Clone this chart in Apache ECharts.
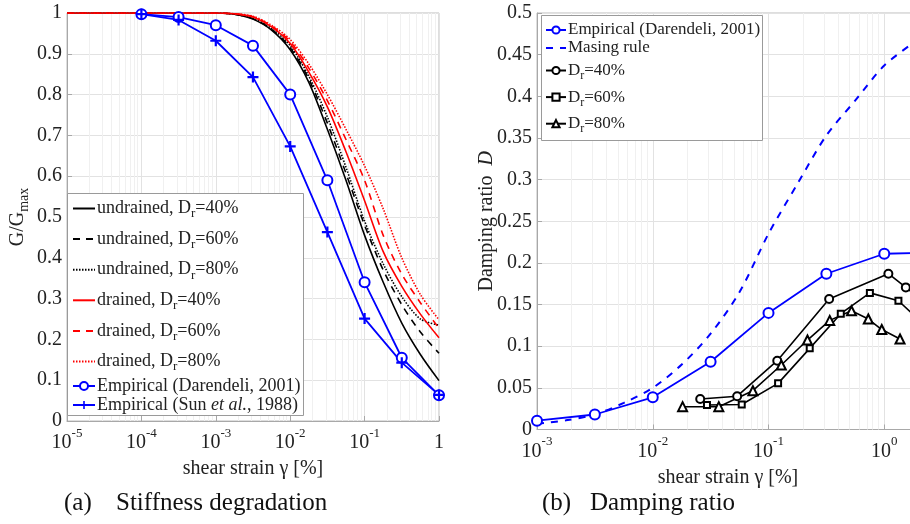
<!DOCTYPE html>
<html><head><meta charset="utf-8">
<script src="https://cdn.jsdelivr.net/npm/echarts@6/dist/echarts.min.js"></script>
<style>html,body{margin:0;padding:0;background:#fff;overflow:hidden;width:910px;height:524px}#c{width:960px;height:524px}</style>
</head><body><div id="c"></div>
<script>
// ---------- DATA (left: stiffness degradation) ----------
const modelStrain = [0.00001, 0.001, 0.00178, 0.00316, 0.00562, 0.01, 0.0178, 0.0316, 0.0562, 0.1, 0.178, 0.316, 0.562, 1];
const undrained40 = [1, 1, 0.997, 0.985, 0.958, 0.91, 0.83, 0.715, 0.59, 0.455, 0.34, 0.24, 0.163, 0.099];
const undrained60 = [1, 1, 0.997, 0.986, 0.96, 0.915, 0.838, 0.73, 0.607, 0.48, 0.37, 0.285, 0.218, 0.166];
const undrained80 = [1, 1, 0.997, 0.987, 0.962, 0.92, 0.845, 0.745, 0.622, 0.49, 0.385, 0.305, 0.25, 0.235];
const drained40   = [1, 1, 0.998, 0.99, 0.966, 0.925, 0.855, 0.77, 0.66, 0.54, 0.415, 0.33, 0.262, 0.204];
const drained60   = [1, 1, 0.998, 0.991, 0.968, 0.93, 0.865, 0.785, 0.69, 0.59, 0.455, 0.36, 0.29, 0.227];
const drained80   = [1, 1, 0.998, 0.992, 0.97, 0.935, 0.875, 0.80, 0.715, 0.625, 0.52, 0.40, 0.31, 0.248];
const empStrain   = [0.0001, 0.000316, 0.001, 0.00316, 0.01, 0.0316, 0.1, 0.316, 1];
const darendeliG  = [0.997, 0.99, 0.97, 0.92, 0.80, 0.59, 0.34, 0.155, 0.063];
const sunG        = [0.997, 0.983, 0.932, 0.843, 0.673, 0.463, 0.251, 0.143, 0.064];

// ---------- DATA (right: damping ratio) ----------
const darDStrain  = [0.001, 0.00316, 0.01, 0.0316, 0.1, 0.316, 1, 3.16];
const darendeliD  = [0.0106, 0.018, 0.0386, 0.0814, 0.140, 0.187, 0.211, 0.2125];
const masingStrain = [0.001, 0.00178, 0.00316, 0.00562, 0.01, 0.0178, 0.0316, 0.0562, 0.1, 0.178, 0.316, 0.562, 1, 1.78];
const masingD     = [0.007, 0.011, 0.018, 0.032, 0.05, 0.078, 0.115, 0.165, 0.235, 0.295, 0.353, 0.395, 0.437, 0.464];
const dr40Strain  = [0.0257, 0.0536, 0.119, 0.334, 1.085, 1.535, 2.5];
const dr40D       = [0.0366, 0.040, 0.0826, 0.1566, 0.187, 0.1706, 0.147];
const dr60Strain  = [0.0294, 0.0587, 0.121, 0.227, 0.421, 0.751, 1.325, 2.2];
const dr60D       = [0.0294, 0.030, 0.0554, 0.0974, 0.139, 0.164, 0.1546, 0.126];
const dr80Strain  = [0.0181, 0.0372, 0.0733, 0.129, 0.217, 0.338, 0.521, 0.728, 0.951, 1.368];
const dr80D       = [0.0274, 0.0274, 0.0466, 0.0774, 0.1074, 0.131, 0.1426, 0.1326, 0.120, 0.1086];

// ---------- tick labels ----------
const leftXTicks = [-5, -4, -3, -2, -1, 0];
const rightXTicks = [-3, -2, -1, 0];

const F = '"Liberation Serif","Times New Roman",serif';
const TXT = '#222';
const BLUE = '#0000ff';
const toXY = (xs, ys) => xs.map((x, i) => [Math.log10(x), ys[i]]);

function minorLines(a, b) {
  const out = [];
  for (let n = a; n < b; n++) for (let k = 2; k <= 9; k++) out.push({ xAxis: n + Math.log10(k) });
  return out;
}

const plusPath = 'path://M4,0h2v4h4v2h-4v4h-2v-4h-4v-2h4z';

const labelRich = {
  n: { fontSize: 20, fontFamily: F, color: TXT, lineHeight: 26, verticalAlign: 'bottom' },
  s: { fontSize: 13, fontFamily: F, color: TXT, lineHeight: 13, verticalAlign: 'top' }
};
const legRich = (fs) => ({
  n: { fontSize: fs, fontFamily: F, color: TXT },
  i: { fontSize: fs, fontFamily: F, color: TXT, fontStyle: 'italic' },
  m: { fontSize: fs, fontFamily: F, color: TXT },
  s: { fontSize: fs - 5, fontFamily: F, color: TXT, padding: [11, 0, 0, 0] }
});

function xAxisCfg(grid, min, max, ticks) {
  return {
    gridIndex: grid, type: 'value', min: min, max: max, interval: 1,
    axisLine: { show: true, onZero: false, lineStyle: { color: '#a8a8a8' } },
    axisTick: { inside: true, length: 5, lineStyle: { color: '#a8a8a8' } },
    splitLine: { show: true, lineStyle: { color: '#e2e2e2' } },
    axisLabel: {
      margin: 6,
      formatter: v => {
        if (ticks.indexOf(v) < 0) return '';
        if (v === 0 && grid === 0) return '{n|1}';
        return '{n|10}{s|' + v + '}';
      },
      rich: labelRich
    },
    name: 'shear strain γ [%]', nameLocation: 'middle', nameGap: 38,
    nameTextStyle: { fontFamily: F, fontSize: 20, color: TXT }
  };
}
function yAxisCfg(grid, max, interval, name, gap, moveOverlap) {
  return {
    gridIndex: grid, type: 'value', min: 0, max: max, interval: interval,
    axisLine: { show: true, onZero: false, lineStyle: { color: '#a8a8a8' } },
    axisTick: { show: true, inside: true, length: 5, lineStyle: { color: '#a8a8a8' } },
    splitLine: { show: true, lineStyle: { color: '#e2e2e2' } },
    axisLabel: { margin: 5, fontFamily: F, fontSize: 20, color: TXT },
    name: name, nameLocation: 'middle', nameGap: gap, nameMoveOverlap: moveOverlap,
    nameTextStyle: { fontFamily: F, fontSize: 20, color: TXT, rich: {
      n: { fontFamily: F, fontSize: 20, color: TXT },
      i: { fontFamily: F, fontSize: 20, color: TXT, fontStyle: 'italic' },
      s: { fontFamily: F, fontSize: 14, color: TXT, padding: [12, 0, 0, 0] }
    } }
  };
}

function modelSeries(name, ys, color, type) {
  return {
    name: name, type: 'line', xAxisIndex: 0, yAxisIndex: 0, z: 3,
    data: toXY(modelStrain, ys), smooth: 0.3,
    symbol: 'none', lineStyle: { color: color, width: 1.6, type: type },
    itemStyle: { color: color }
  };
}

const leftLegendNamesA = ['undrained, Dr=40%', 'undrained, Dr=60%', 'undrained, Dr=80%',
  'drained, Dr=40%', 'drained, Dr=60%', 'drained, Dr=80%'];
const leftLegendNamesB = ['Empirical (Darendeli, 2001)', 'Empirical (Sun et al., 1988)'];
const rightLegendNamesA = ['Empirical (Darendeli, 2001) ', 'Masing rule'];
const rightLegendNamesB = ['Dr=40%', 'Dr=60%', 'Dr=80%'];
const noSymbolItems = ['undrained, Dr=40%', 'undrained, Dr=60%', 'undrained, Dr=80%',
  'drained, Dr=40%', 'drained, Dr=60%', 'drained, Dr=80%', 'Masing rule'];

function legData(names) {
  return names.map(n => noSymbolItems.indexOf(n) >= 0
    ? { name: n, itemStyle: { color: 'rgba(0,0,0,0)', borderColor: 'rgba(0,0,0,0)', opacity: 0 } }
    : { name: n });
}

function legFmt(name) {
  const nm = name.trim();
  if (nm === 'Empirical (Sun et al., 1988)') return '{n|Empirical (Sun }{i|et al.}{n|, 1988)}';
  if (nm.indexOf('Dr=') >= 0) {
    const p = nm.split('Dr=');
    return '{m|' + p[0] + 'D}{s|r}{m|=' + p[1] + '}';
  }
  return '{n|' + nm + '}';
}

function legendCfg(names, left, top, gap, fs, iw, ih) {
  return {
    data: legData(names), left: left, top: top, orient: 'vertical', align: 'left',
    itemWidth: iw, itemHeight: ih, itemGap: gap, padding: 0, z: 12,
    selectedMode: false, formatter: legFmt,
    textStyle: { rich: legRich(fs), padding: [0, 0, 0, -3] }
  };
}

const markLineBase = { silent: true, symbol: ['none', 'none'], label: { show: false }, animation: false, z: 1,
  lineStyle: { color: '#f0f0f0', type: 'solid', width: 1 } };

const series = [
  // minor grid holders
  { type: 'line', xAxisIndex: 0, yAxisIndex: 0, data: [[-5, 0]], symbol: 'none', silent: true, z: 1,
    lineStyle: { opacity: 0 }, markLine: Object.assign({}, markLineBase, { data: minorLines(-5, 0) }) },
  { type: 'line', xAxisIndex: 1, yAxisIndex: 1, data: [[-3, 0]], symbol: 'none', silent: true, z: 1,
    lineStyle: { opacity: 0 }, markLine: Object.assign({}, markLineBase, { data: minorLines(-3, 1) }) },

  modelSeries(leftLegendNamesA[0], undrained40, '#000', 'solid'),
  modelSeries(leftLegendNamesA[1], undrained60, '#000', [7, 6]),
  modelSeries(leftLegendNamesA[2], undrained80, '#000', [1.5, 1.5]),
  modelSeries(leftLegendNamesA[3], drained40, '#ff0000', 'solid'),
  modelSeries(leftLegendNamesA[4], drained60, '#ff0000', [7, 6]),
  modelSeries(leftLegendNamesA[5], drained80, '#ff0000', [1.5, 1.5]),
  { name: leftLegendNamesB[0], type: 'line', xAxisIndex: 0, yAxisIndex: 0, z: 4,
    data: toXY(empStrain, darendeliG), symbol: 'emptyCircle', symbolSize: 10,
    lineStyle: { color: BLUE, width: 1.8 }, itemStyle: { color: BLUE, borderWidth: 1.6 } },
  { name: leftLegendNamesB[1], type: 'line', xAxisIndex: 0, yAxisIndex: 0, z: 4,
    data: toXY(empStrain, sunG), symbol: plusPath, symbolSize: 11,
    lineStyle: { color: BLUE, width: 1.8 }, itemStyle: { color: BLUE } },

  { name: rightLegendNamesA[0], type: 'line', xAxisIndex: 1, yAxisIndex: 1, z: 4,
    data: toXY(darDStrain, darendeliD), symbol: 'emptyCircle', symbolSize: 10,
    lineStyle: { color: BLUE, width: 1.8 }, itemStyle: { color: BLUE, borderWidth: 1.6 } },
  { name: rightLegendNamesA[1], type: 'line', xAxisIndex: 1, yAxisIndex: 1, z: 3,
    data: toXY(masingStrain, masingD), smooth: 0.3, symbol: 'none',
    lineStyle: { color: BLUE, width: 2, type: [7, 7] }, itemStyle: { color: BLUE } },
  { name: rightLegendNamesB[0], type: 'line', xAxisIndex: 1, yAxisIndex: 1, z: 4,
    data: toXY(dr40Strain, dr40D), symbol: 'emptyCircle', symbolSize: 8,
    lineStyle: { color: '#000', width: 1.6 }, itemStyle: { color: '#000', borderWidth: 1.5 } },
  { name: rightLegendNamesB[1], type: 'line', xAxisIndex: 1, yAxisIndex: 1, z: 4,
    data: toXY(dr60Strain, dr60D), symbol: 'emptyRect', symbolSize: 6,
    lineStyle: { color: '#000', width: 1.6 }, itemStyle: { color: '#000', borderWidth: 1.5 } },
  { name: rightLegendNamesB[2], type: 'line', xAxisIndex: 1, yAxisIndex: 1, z: 4,
    data: toXY(dr80Strain, dr80D), symbol: 'emptyTriangle', symbolSize: 9,
    lineStyle: { color: '#000', width: 1.6 }, itemStyle: { color: '#000', borderWidth: 1.5 } }
];

const chart = echarts.init(document.getElementById('c'), null, { renderer: 'canvas', width: 960, height: 524 });
chart.setOption({
  animation: false,
  backgroundColor: '#fff',
  grid: [
    { left: 67, top: 13, width: 372, height: 408, show: true, borderColor: '#bdbdbd', borderWidth: 1 },
    { left: 537, top: 13, width: 382, height: 416.5, show: true, borderColor: '#bdbdbd', borderWidth: 1 }
  ],
  xAxis: [xAxisCfg(0, -5, 0, leftXTicks), xAxisCfg(1, -3, 0.3, rightXTicks)],
  yAxis: [
    yAxisCfg(0, 1, 0.1, '{n|G/G}{s|max}', 36, true),
    yAxisCfg(1, 0.5, 0.05, '{n|Damping ratio  }{i|D}', 40, false)
  ],
  legend: [
    legendCfg(leftLegendNamesA, 72, 199.5, 9.6, 18, 22, 10),
    legendCfg(leftLegendNamesB, 72, 377, 1, 18, 22, 10),
    legendCfg(rightLegendNamesA, 545, 21.5, 1, 17, 20, 9),
    legendCfg(rightLegendNamesB, 545, 62, 6.6, 17, 20, 9)
  ],
  graphic: [
    { type: 'rect', left: 67, top: 193, z: 10, silent: true,
      shape: { width: 236, height: 222 }, style: { fill: '#fff', stroke: '#9a9a9a', lineWidth: 1 } },
    { type: 'rect', left: 541, top: 15, z: 10, silent: true,
      shape: { width: 221, height: 125 }, style: { fill: '#fff', stroke: '#9a9a9a', lineWidth: 1 } },
    { type: 'text', left: 64, top: 491, style: { text: '(a)', font: '25px ' + F, fill: '#111' } },
    { type: 'text', left: 116, top: 491, style: { text: 'Stiffness degradation', font: '25px ' + F, fill: '#111' } },
    { type: 'text', left: 542, top: 491, style: { text: '(b)', font: '25px ' + F, fill: '#111' } },
    { type: 'text', left: 590, top: 491, style: { text: 'Damping ratio', font: '25px ' + F, fill: '#111' } }
  ],
  series: series
});
</script>
</body></html>
